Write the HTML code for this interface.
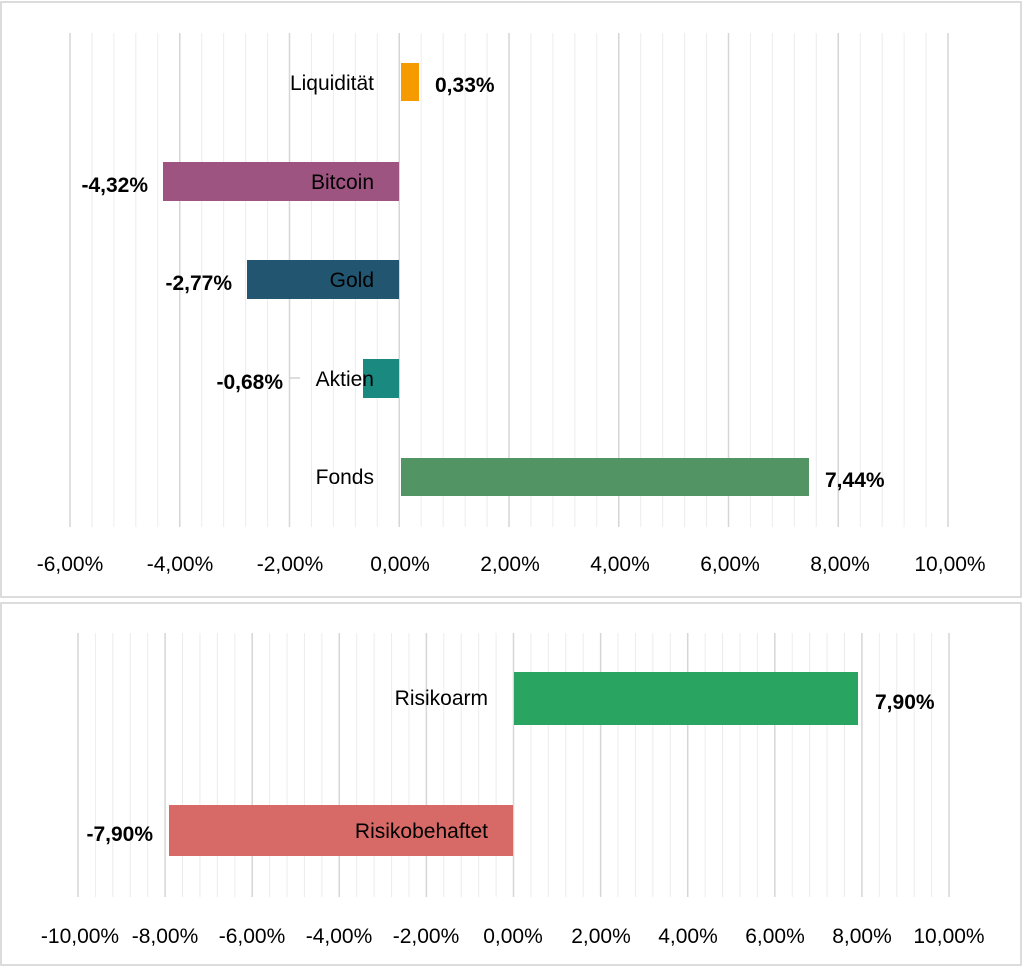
<!DOCTYPE html>
<html><head><meta charset="utf-8"><style>
body{margin:0;background:#fff;width:1024px;height:968px;overflow:hidden}
text{font-family:"Liberation Sans",sans-serif;fill:#000}
</style></head><body>
<svg width="1024" height="968" xmlns="http://www.w3.org/2000/svg">
<defs>
<pattern id="m1" patternUnits="userSpaceOnUse" x="69.5" y="0" width="21.95" height="10"><rect x="0" y="0" width="1" height="10" fill="#ececec"/></pattern>
<pattern id="M1" patternUnits="userSpaceOnUse" x="69.25" y="0" width="109.75" height="10"><rect x="0" y="0" width="1.5" height="10" fill="#d6d6d6"/></pattern>
<pattern id="m2" patternUnits="userSpaceOnUse" x="77.5" y="0" width="17.42" height="10"><rect x="0" y="0" width="1" height="10" fill="#ececec"/></pattern>
<pattern id="M2" patternUnits="userSpaceOnUse" x="77.25" y="0" width="87.1" height="10"><rect x="0" y="0" width="1.5" height="10" fill="#d6d6d6"/></pattern>
</defs>
<rect x="1" y="2" width="1020" height="595" fill="#fff" stroke="#d0d0d0" stroke-width="1.5"/>
<rect x="1" y="603" width="1020" height="362" fill="#fff" stroke="#d0d0d0" stroke-width="1.5"/>
<rect x="69" y="33" width="882" height="494" fill="url(#m1)"/>
<rect x="69" y="33" width="882" height="494" fill="url(#M1)"/>
<rect x="77" y="633" width="874" height="264" fill="url(#m2)"/>
<rect x="77" y="633" width="874" height="264" fill="url(#M2)"/>
<!-- top bars -->
<rect x="401" y="63" width="18" height="38" fill="#f59b00"/>
<rect x="163" y="162" width="236" height="39" fill="#9e5480"/>
<rect x="247" y="260" width="152" height="39" fill="#225570"/>
<rect x="363" y="359" width="36" height="39" fill="#1a8a80"/>
<rect x="401" y="458" width="408" height="38" fill="#529463"/>
<line x1="290" y1="378" x2="300" y2="378" stroke="#bbb" stroke-width="1"/>
<g font-size="21">
<text x="374" y="90" text-anchor="end">Liquidität</text>
<text x="374" y="189" text-anchor="end">Bitcoin</text>
<text x="374" y="287" text-anchor="end">Gold</text>
<text x="374" y="386" text-anchor="end">Aktien</text>
<text x="374" y="484" text-anchor="end">Fonds</text>
</g>
<g font-size="21" font-weight="bold">
<text x="435" y="92">0,33%</text>
<text x="148" y="192" text-anchor="end">-4,32%</text>
<text x="232" y="290" text-anchor="end">-2,77%</text>
<text x="283" y="389" text-anchor="end">-0,68%</text>
<text x="825" y="487">7,44%</text>
</g>
<g font-size="21" text-anchor="middle">
<text x="70" y="571">-6,00%</text><text x="180" y="571">-4,00%</text><text x="290" y="571">-2,00%</text><text x="400" y="571">0,00%</text><text x="510" y="571">2,00%</text><text x="620" y="571">4,00%</text><text x="730" y="571">6,00%</text><text x="840" y="571">8,00%</text><text x="950" y="571">10,00%</text>
</g>
<!-- bottom bars -->
<rect x="514" y="672" width="344" height="53" fill="#2aa561"/>
<rect x="169" y="805" width="344" height="51" fill="#d76a66"/>
<g font-size="21">
<text x="488" y="705" text-anchor="end">Risikoarm</text>
<text x="488" y="838" text-anchor="end">Risikobehaftet</text>
</g>
<g font-size="21" font-weight="bold">
<text x="875" y="709">7,90%</text>
<text x="153" y="841" text-anchor="end">-7,90%</text>
</g>
<g font-size="21" text-anchor="middle">
<text x="80" y="943">-10,00%</text><text x="165" y="943">-8,00%</text><text x="252" y="943">-6,00%</text><text x="339" y="943">-4,00%</text><text x="426" y="943">-2,00%</text><text x="513" y="943">0,00%</text><text x="601" y="943">2,00%</text><text x="688" y="943">4,00%</text><text x="775" y="943">6,00%</text><text x="862" y="943">8,00%</text><text x="949" y="943">10,00%</text>
</g>
</svg>
</body></html>
